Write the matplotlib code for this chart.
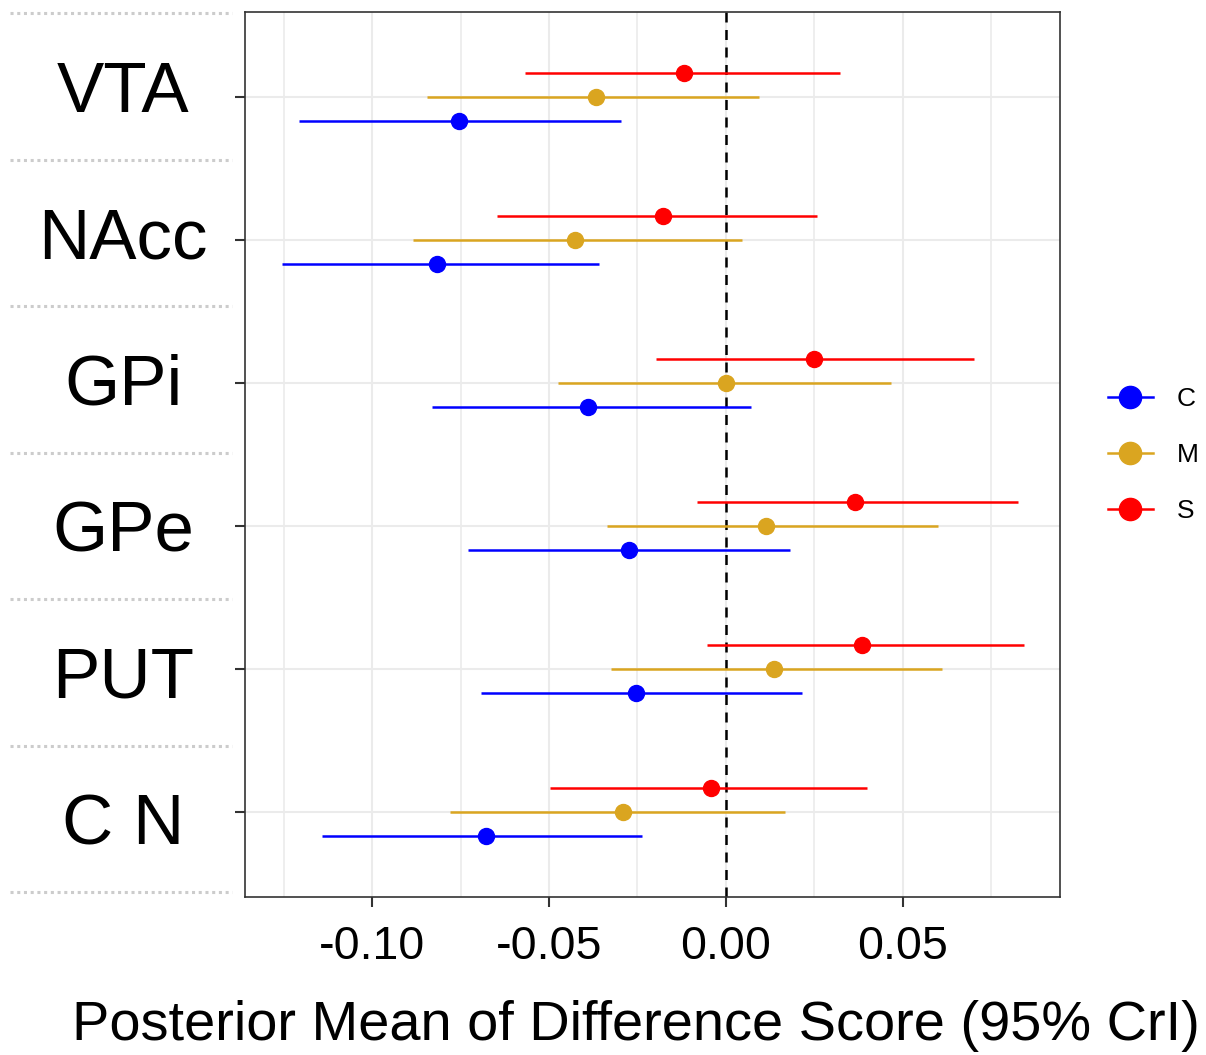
import matplotlib
matplotlib.use("Agg")
import matplotlib.pyplot as plt
from matplotlib.lines import Line2D
from matplotlib.ticker import MultipleLocator

plt.rcParams['font.family'] = ['Liberation Sans', 'DejaVu Sans']

# regions, top to bottom
regions = ["VTA", "NAcc", "GPi", "GPe", "PUT", "C N"]
groups = ["C", "M", "S"]
colors = {"C": "#0000FF", "M": "#DAA520", "S": "#FF0000"}

# posterior means and 95% CrI per group, in region order
mean = {
    "S": [-0.0119, -0.0178, 0.0249, 0.0364, 0.0384, -0.0042],
    "M": [-0.0367, -0.0427, 0.0000, 0.0113, 0.0136, -0.0291],
    "C": [-0.0754, -0.0816, -0.0390, -0.0274, -0.0254, -0.0678],
}
lower = {
    "S": [-0.0568, -0.0647, -0.0198, -0.0082, -0.0054, -0.0497],
    "M": [-0.0845, -0.0884, -0.0475, -0.0336, -0.0325, -0.0780],
    "C": [-0.1206, -0.1254, -0.0831, -0.0729, -0.0692, -0.1141],
}
upper = {
    "S": [0.0322, 0.0257, 0.0701, 0.0825, 0.0842, 0.0398],
    "M": [0.0093, 0.0045, 0.0466, 0.0599, 0.0610, 0.0167],
    "C": [-0.0297, -0.0359, 0.0071, 0.0181, 0.0215, -0.0237],
}
offset = {"C": -0.168, "M": 0.0, "S": 0.168}

W, H = 1206, 1055
fig = plt.figure(figsize=(W / 100, H / 100), dpi=100)
ax = fig.add_axes([245 / W, (H - 897) / H, (1060 - 245) / W, (897 - 12) / H])

n = len(regions)
ypos = [n - i for i in range(n)]

ax.xaxis.set_major_locator(MultipleLocator(0.05))
ax.xaxis.set_minor_locator(MultipleLocator(0.025))
ax.grid(True, which='major', color='#EBEBEB', lw=1.5)
ax.grid(True, which='minor', axis='x', color='#EBEBEB', lw=1.2)
ax.set_axisbelow(True)

ax.axvline(0, color='black', ls=(0, (4, 3)), lw=1.8, zorder=2)

for g in ["C", "M", "S"]:
    ys = [y + offset[g] for y in ypos]
    ax.hlines(ys, lower[g], upper[g], color=colors[g], lw=1.8, zorder=3)
    ax.plot(mean[g], ys, 'o', color=colors[g], ms=11.5, zorder=4)

ax.set_xlim(-0.1359, 0.0944)
ax.set_ylim(0.406, 6.594)
ax.set_yticks(ypos)
ax.set_yticklabels([])
ax.set_xticks([-0.10, -0.05, 0.00, 0.05])
ax.set_xticklabels(["-0.10", "-0.05", "0.00", "0.05"])
ax.tick_params(axis='x', which='major', labelsize=33.5, length=7, width=1.5, color='#333333', pad=13)
ax.tick_params(axis='x', which='minor', length=0)
ax.tick_params(axis='y', length=7, width=1.5, color='#333333')
for s in ax.spines.values():
    s.set_color('#333333')
    s.set_linewidth(1.2)

# axis title
fig.text(636 / W, 1 - 1026 / H, "Posterior Mean of Difference Score (95% CrI)",
         fontsize=40.3, ha='center', va='center')

# region labels panel on the left
lab = fig.add_axes([10 / W, (H - 892) / H, 222 / W, 879 / H])
lab.set_xlim(0, 1)
lab.set_ylim(0, n)
lab.axis('off')
for k in range(n + 1):
    lab.axhline(k, color='#CCCCCC', ls=(0, (1, 1.2)), lw=2.2, clip_on=False)
for i, r in enumerate(regions):
    lab.text(0.51, n - i - 0.675, r, fontsize=51, ha='center', va='baseline')

handles = [Line2D([], [], color=colors[g], marker='o', ms=16, lw=1.8) for g in groups]
fig.legend(handles, groups, loc='center left', bbox_to_anchor=(1108 / W, 1 - 455 / H),
           frameon=False, fontsize=19, handlelength=1.7, handletextpad=0.9,
           labelspacing=1.22, borderpad=0, borderaxespad=0)

fig.savefig("out.png", dpi=100)
